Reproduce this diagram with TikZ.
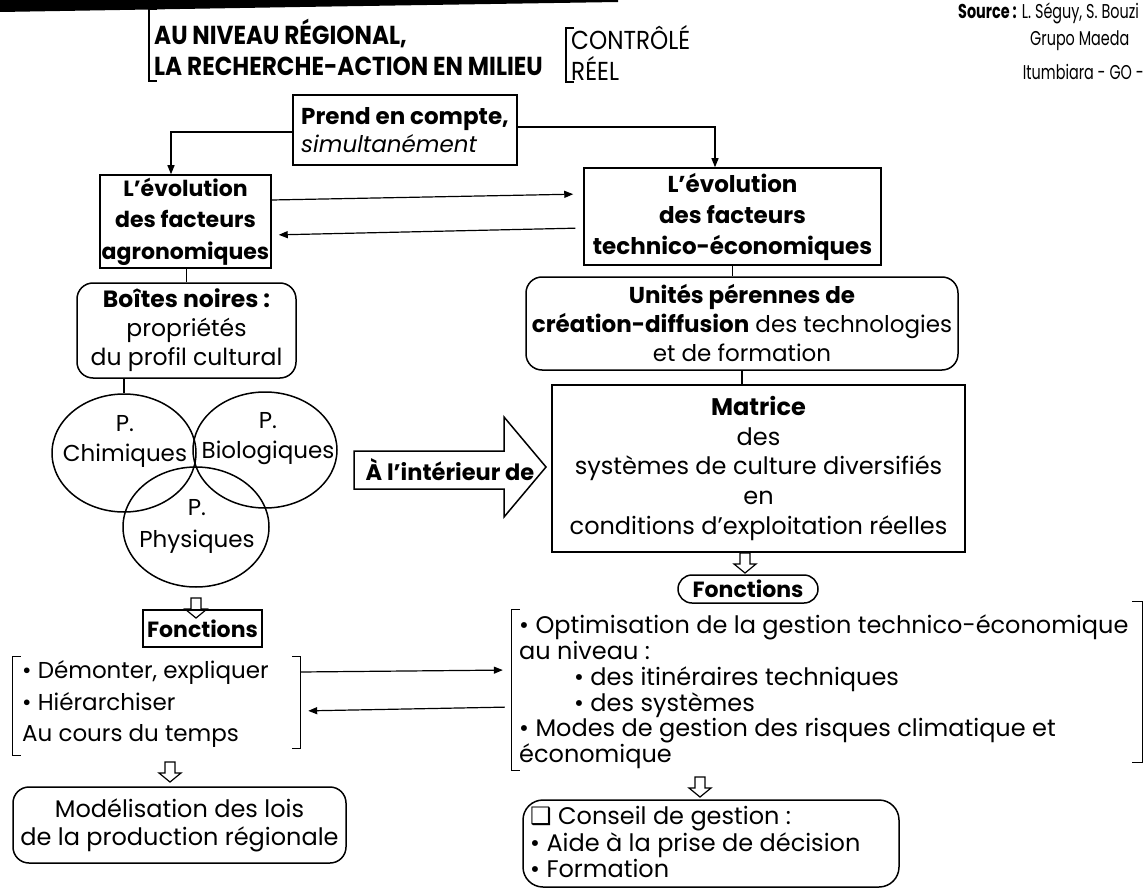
\documentclass[tikz,border=0pt]{standalone}
\usepackage{fontspec}
\setmainfont{Poppins}
\newfontfamily\titlefont[FakeStretch=0.89]{Poppins}
\newfontfamily\srcfont[FakeStretch=0.72]{Poppins}
\newfontfamily\symfont{DejaVu Sans}
\usetikzlibrary{arrows.meta,shapes.geometric}
\newcommand\fs[2]{\fontsize{#1}{#2}\selectfont}

\begin{document}
\begin{tikzpicture}[x=1pt,y=-1pt,
  sq/.style={draw, line width=1.5pt, align=center, inner sep=0pt},
  rnd/.style={sq, rounded corners=16pt},
  lab/.style={inner sep=0pt, align=left},
  conn/.style={line width=1.2pt},
  arr/.style={conn, -{Triangle[length=9pt,width=7pt]}},
  brk/.style={line width=1.3pt},
  ell/.style={draw, ellipse, line width=1.5pt, inner sep=0pt},
  harrow/.pic={\draw[line width=1.2pt, line join=miter, fill=white]
     (-5,0) -- (-5,11) -- (-11,11) -- (0,20) -- (11,11) -- (5,11) -- (5,0) -- cycle;}
]
\useasboundingbox (0,0) rectangle (1145,893);
\clip (0,0) rectangle (1145,893);
\fill[white] (0,0) rectangle (1145,893);

% heavy rule at the top edge
\fill[black] (0,-1) -- (618,-1) -- (618,2) -- (300,7) -- (0,12) -- cycle;

% heading
\node[lab, anchor=west, font=\titlefont\bfseries\fs{26}{31}] (title) at (154,47)
  {AU NIVEAU RÉGIONAL,\\LA RECHERCHE-ACTION EN MILIEU};
\draw[brk] (157,9) -- (149,9) -- (149,81) -- (157,81);
\node[lab, anchor=west, font=\titlefont\fs{26}{31}] (milieu) at (571,53)
  {CONTRÔLÉ\\RÉEL};
\draw[brk] (574,28) -- (566,28) -- (566,82) -- (574,82);

% source
\node[lab, anchor=west, font=\srcfont\fs{20}{24}] (src) at (958,13)
  {\textbf{Source :} L. Séguy, S. Bouzi};
\node[lab, anchor=west, font=\srcfont\fs{20}{24}] (grupo) at (1030,41) {Grupo Maeda};
\node[lab, anchor=east, font=\srcfont\fs{20}{24}] (itum) at (1144,72) {Itumbiara - GO -};

% upper boxes
\node[sq, minimum width=224pt, minimum height=70pt, align=left, font=\fs{23}{28}]
  (prend) at (405,130) {\textbf{Prend en compte,}\\\textit{simultanément}};
\node[sq, minimum width=171pt, minimum height=93pt, font=\bfseries\fs{22}{31.5}]
  (agro) at (185.5,221.5) {L'évolution\\des facteurs\\agronomiques};
\node[sq, minimum width=297pt, minimum height=97pt, font=\bfseries\fs{23}{31}]
  (tech) at (732.5,216.5) {L'évolution\\des facteurs\\technico-économiques};

\draw[arr] (prend.west |- 0,132) -| ([xshift=-14.5pt]agro.north);
\draw[arr] (prend.east |- 0,127) -| ([xshift=-17.5pt]tech.north);
\draw[arr, shorten >=10pt] (agro.east |- 0,200) -- (tech.west |- 0,194);
\draw[arr, shorten <=8pt, shorten >=7pt] (tech.west |- 0,228) -- (agro.east |- 0,235);

% second row
\node[rnd, minimum width=219pt, minimum height=95pt, font=\fs{23.5}{29}]
  (boites) at (186.5,330.5) {\textbf{Boîtes noires :}\\propriétés\\du profil cultural};
\node[rnd, minimum width=432pt, minimum height=93pt, font=\fs{23}{29}]
  (unites) at (742,323.5)
  {\textbf{Unités pérennes de}\\\textbf{création-diffusion} des technologies\\et de formation};
\draw[conn] (agro.south -| boites.north) -- (boites.north);
\draw[conn] (tech.south) -- (tech.south |- unites.north);

% properties of the soil profile
\node[ell, minimum width=144pt, minimum height=118pt] (chim) at (124,453) {};
\node[ell, minimum width=144pt, minimum height=116pt] (bio) at (265,450) {};
\node[ell, minimum width=146pt, minimum height=120pt] (phys) at (196,527) {};
\node[lab, align=center, font=\fs{23}{30}] (chimt) at (125,441) {P.\\Chimiques};
\node[lab, align=center, font=\fs{23}{30}] (biot) at (268,439) {P.\\Biologiques};
\node[lab, align=center, font=\fs{23}{32}] (physt) at (197,526) {P.\\Physiques};
\draw[conn] (boites.south -| chim.north) -- (chim.north);

% big arrow
\draw[line width=1.5pt, line join=miter] (354,451) -- (504,451) -- (504,417) -- (546,467)
  -- (504,517) -- (504,489) -- (354,489) -- cycle;
\node[lab, font=\bfseries\fs{22.5}{26}] (dans) at (450,470) {À l'intérieur de};

% matrix of cropping systems
\node[sq, minimum width=413pt, minimum height=167pt, font=\fs{24}{29.7}]
  (matrice) at (758.5,468.5)
  {\textbf{Matrice}\\des\\systèmes de culture diversifiés\\en\\conditions d'exploitation réelles};
\draw[conn] (unites.south) -- (unites.south |- matrice.north);

% functions, left
\pic at (196,598) {harrow};
\node[sq, minimum width=119pt, minimum height=37pt, font=\bfseries\fs{22}{26}]
  (fonc1) at (202.5,628.5) {Fonctions};
\node[minimum width=287pt, minimum height=98pt, inner sep=0pt] (lblock) at (156.5,706) {};
\node[lab, anchor=west, font=\fs{23}{31.5}] (ltext) at (22,704)
  {• Démonter, expliquer\\• Hiérarchiser\\Au cours du temps};
\draw[brk] ([xshift=8pt]lblock.north west) -- (lblock.north west) -- (lblock.south west)
  -- ([xshift=8pt]lblock.south west);
\draw[brk] ([xshift=-8pt]lblock.north east) -- (lblock.north east) -- ([yshift=7pt]lblock.south east)
  -- ([xshift=-8pt,yshift=7pt]lblock.south east);
\pic at (170,762) {harrow};
\node[rnd, minimum width=333pt, minimum height=76pt, font=\fs{24}{28}]
  (model) at (179.5,825) {Modélisation des lois\\de la production régionale};

% functions, right
\pic at (745,553) {harrow};
\node[sq, rounded corners=14pt, minimum width=140pt, minimum height=28pt, font=\bfseries\fs{22}{26}]
  (fonc2) at (748,589) {Fonctions};
\node[minimum width=630pt, minimum height=164pt, inner sep=0pt] (rblock) at (827,688) {};
\node[lab, anchor=west, font=\fs{24}{25.8}] (rtext) at (519,692)
  {• Optimisation de la gestion technico-économique\\au niveau :\\
   \hspace*{55pt}• des itinéraires techniques\\\hspace*{55pt}• des systèmes\\
   • Modes de gestion des risques climatique et\\économique};
\draw[brk] ([xshift=8pt,yshift=-4pt]rblock.north west) -- ([yshift=-4pt]rblock.north west)
  -- (rblock.south west) -- ([xshift=8pt]rblock.south west);
\draw[brk] ([xshift=-10pt,yshift=4pt]rblock.north east) -- ([yshift=4pt]rblock.north east)
  -- ([yshift=8pt]rblock.south east) -- ([xshift=-10pt,yshift=8pt]rblock.south east);
\pic at (700,777) {harrow};
\node[rnd, rounded corners=20pt, minimum width=376pt, minimum height=87pt] (conseil) at (711,843.5) {};
\node[lab, anchor=west, font=\fs{24}{26.5}] (ctext) at (530,842)
  {{\symfont ❑} Conseil de gestion :\\• Aide à la prise de décision\\• Formation};

% exchanges between the two function lists
\draw[arr, shorten >=9pt] (lblock.east |- 0,672) -- (rblock.west |- 0,670);
\draw[arr, shorten <=7pt, shorten >=8pt] (rblock.west |- 0,707) -- (lblock.east |- 0,711);
\end{tikzpicture}
\end{document}
